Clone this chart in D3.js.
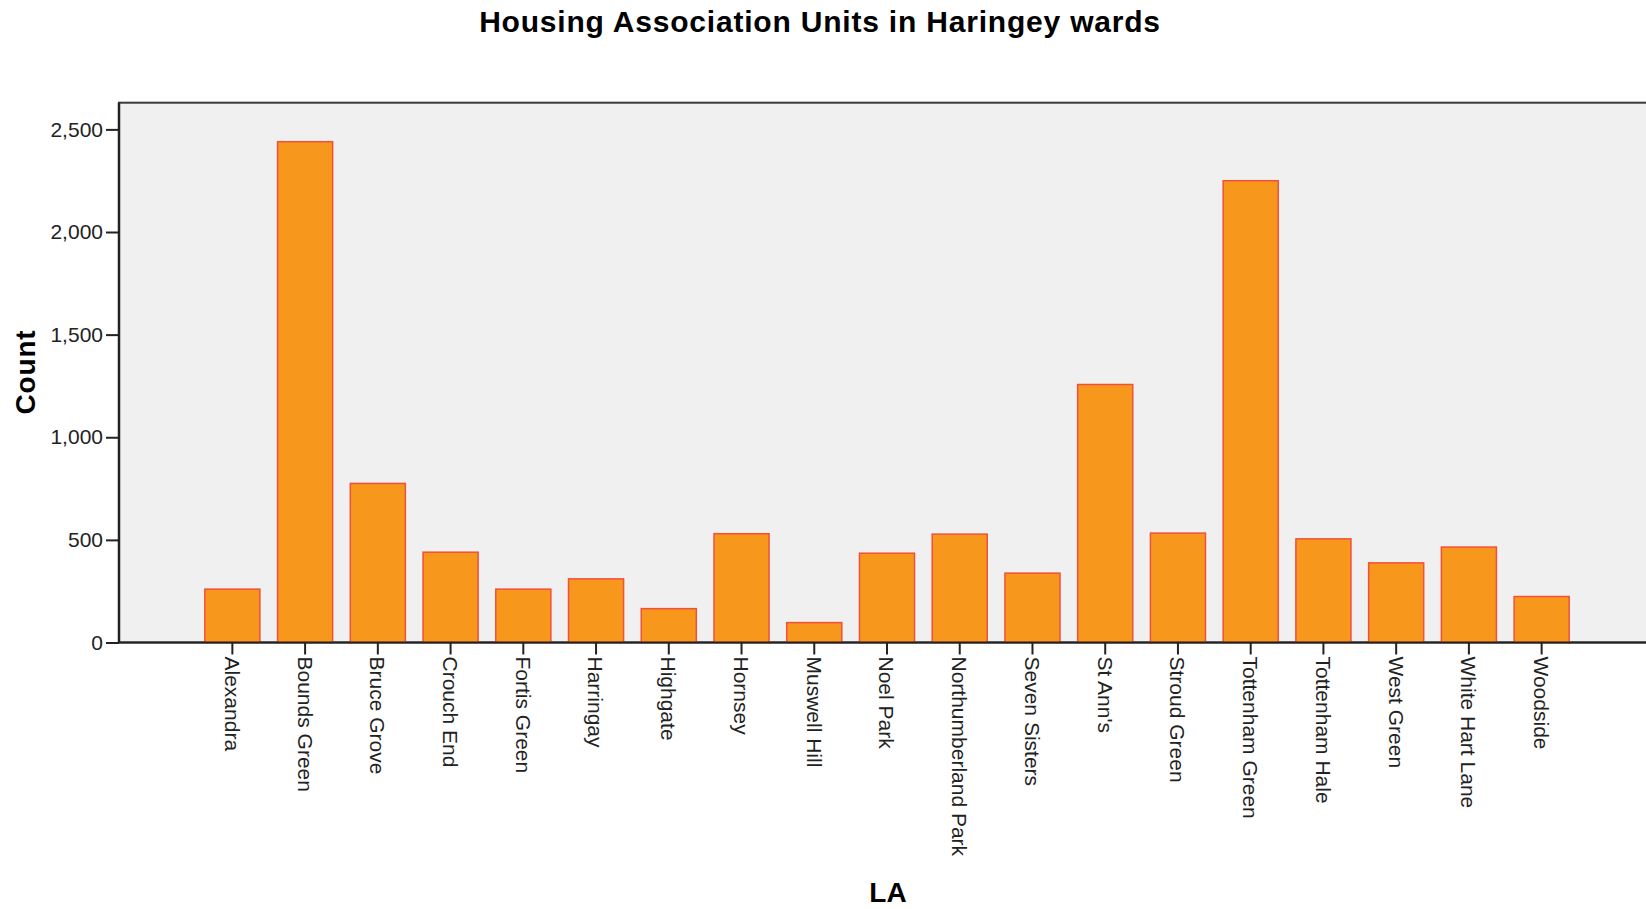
<!DOCTYPE html>
<html>
<head>
<meta charset="utf-8">
<script src="https://cdn.jsdelivr.net/npm/d3@7/dist/d3.min.js"></script>
<style>
  body { margin: 0; background: #fff; }
  svg { display: block; font-family: "Liberation Sans", Arial, sans-serif; }
</style>
</head>
<body>
<svg id="chart" width="1646" height="909"></svg>
<script>
var wards = ["Alexandra", "Bounds Green", "Bruce Grove", "Crouch End", "Fortis Green",
  "Harringay", "Highgate", "Hornsey", "Muswell Hill", "Noel Park", "Northumberland Park",
  "Seven Sisters", "St Ann's", "Stroud Green", "Tottenham Green", "Tottenham Hale",
  "West Green", "White Hart Lane", "Woodside"];
var counts = [260, 2440, 775, 440, 260, 310, 165, 530, 97, 435, 528, 338, 1257, 533,
  2250, 505, 388, 465, 224];
var yTicks = [0, 500, 1000, 1500, 2000, 2500];

var margin = { left: 119, top: 102.7, right: 1655, bottom: 642.5 };

var svg = d3.select("#chart");

var x = d3.scaleBand()
    .domain(wards)
    .range([margin.left, margin.right])
    .paddingInner(0.243)
    .paddingOuter(1.18);

var y = d3.scaleLinear()
    .domain([0, 2630])
    .range([margin.bottom, margin.top]);

// plot background + frame
svg.append("rect")
    .attr("x", margin.left)
    .attr("y", margin.top)
    .attr("width", margin.right - margin.left)
    .attr("height", margin.bottom - margin.top)
    .attr("fill", "#f0f0f0")
    .attr("stroke", "#3a3a3a")
    .attr("stroke-width", 2);

// bars
svg.selectAll("rect.bar")
    .data(counts)
  .enter()
    .append("rect")
    .attr("class", "bar")
    .attr("x", function(d, i) { return x(wards[i]); })
    .attr("y", function(d) { return y(d); })
    .attr("width", x.bandwidth())
    .attr("height", function(d) { return y(0) - y(d); })
    .attr("fill", "#f7981d")
    .attr("stroke", "#f0503c")
    .attr("stroke-width", 1.5);

// y axis
var yAxis = svg.append("g")
    .attr("transform", "translate(" + margin.left + ",0)")
    .call(d3.axisLeft(y).tickValues(yTicks).tickFormat(d3.format(",")).tickSize(13).tickPadding(3));
yAxis.select(".domain").remove();
yAxis.selectAll(".tick line").attr("stroke", "#222").attr("stroke-width", 2);
yAxis.selectAll(".tick text").attr("font-size", 21).attr("fill", "#222").attr("font-family", null);

// x axis
var xAxis = svg.append("g")
    .attr("transform", "translate(0," + margin.bottom + ")")
    .call(d3.axisBottom(x).tickSize(12));
xAxis.select(".domain").remove();
xAxis.selectAll(".tick line").attr("stroke", "#222").attr("stroke-width", 2);
xAxis.selectAll(".tick text")
    .attr("font-size", 21)
    .attr("fill", "#222")
    .attr("font-family", null)
    .attr("text-anchor", "start")
    .attr("transform", "rotate(90)")
    .attr("x", 14)
    .attr("y", 0)
    .attr("dy", "0.36em");

// axis lines
svg.append("line")
    .attr("x1", margin.left).attr("x2", margin.left)
    .attr("y1", margin.top).attr("y2", margin.bottom)
    .attr("stroke", "#222").attr("stroke-width", 2.5);
svg.append("line")
    .attr("x1", margin.left).attr("x2", margin.right)
    .attr("y1", margin.bottom).attr("y2", margin.bottom)
    .attr("stroke", "#222").attr("stroke-width", 2);

// title and axis titles
svg.append("text")
    .attr("x", 820)
    .attr("y", 32)
    .attr("text-anchor", "middle")
    .attr("font-size", 30)
    .attr("font-weight", "bold")
    .attr("letter-spacing", 0.8)
    .text("Housing Association Units in Haringey wards");

svg.append("text")
    .attr("transform", "translate(35,372) rotate(-90)")
    .attr("text-anchor", "middle")
    .attr("font-size", 28)
    .attr("font-weight", "bold")
    .attr("letter-spacing", 0.8)
    .text("Count");

svg.append("text")
    .attr("x", 888)
    .attr("y", 902)
    .attr("text-anchor", "middle")
    .attr("font-size", 28)
    .attr("font-weight", "bold")
    .text("LA");
</script>
</body>
</html>
